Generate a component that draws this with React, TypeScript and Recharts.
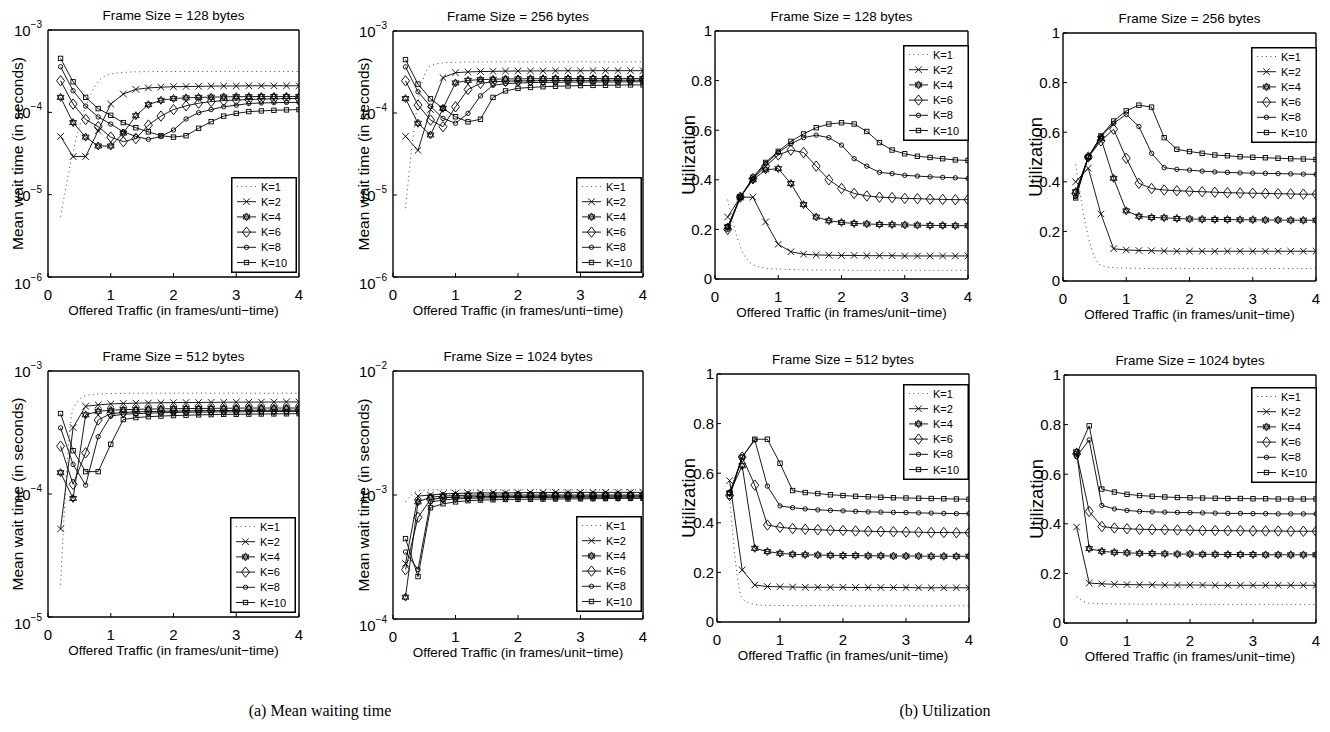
import React from 'react';
import { LineChart, Line, XAxis, YAxis } from 'recharts';

const FONT = '"Liberation Sans", Arial, Helvetica, sans-serif';

// offered traffic sample points (frames / unit time)
const OFFERED = [0.2, 0.4, 0.6, 0.8, 1.0, 1.2, 1.4, 1.6, 1.8, 2.0, 2.2, 2.4, 2.6, 2.8, 3.0, 3.2, 3.4, 3.6, 3.8, 4.0];
const K_LABELS = ['K=1', 'K=2', 'K=4', 'K=6', 'K=8', 'K=10'];
const X_TICKS = [0, 1, 2, 3, 4];
const WAIT_TICKS_A = [1e-6, 1e-5, 1e-4, 1e-3];
const WAIT_TICKS_B = [1e-5, 1e-4, 1e-3];
const WAIT_TICKS_C = [1e-4, 1e-3, 1e-2];
const UTIL_TICKS = [0, 0.2, 0.4, 0.6, 0.8, 1];

// mean wait time (s), rows are K=1,2,4,6,8,10
const WAIT_128 = [
  [5.4e-6, 3.3e-5, 1.17e-4, 2.35e-4, 2.92e-4, 3.05e-4, 3.1e-4, 3.12e-4, 3.13e-4, 3.13e-4, 3.14e-4, 3.14e-4, 3.14e-4, 3.14e-4, 3.14e-4, 3.14e-4, 3.14e-4, 3.14e-4, 3.14e-4, 3.14e-4],
  [5.1e-5, 2.9e-5, 2.9e-5, 6.0e-5, 1.26e-4, 1.67e-4, 1.9e-4, 1.98e-4, 2.02e-4, 2.05e-4, 2.06e-4, 2.07e-4, 2.08e-4, 2.09e-4, 2.09e-4, 2.1e-4, 2.1e-4, 2.1e-4, 2.1e-4, 2.1e-4],
  [1.52e-4, 7.5e-5, 5.0e-5, 3.9e-5, 3.9e-5, 5.6e-5, 9.1e-5, 1.24e-4, 1.4e-4, 1.47e-4, 1.5e-4, 1.52e-4, 1.53e-4, 1.54e-4, 1.55e-4, 1.55e-4, 1.56e-4, 1.56e-4, 1.56e-4, 1.56e-4],
  [2.42e-4, 1.26e-4, 8.2e-5, 6.7e-5, 5.0e-5, 4.4e-5, 4.8e-5, 7.0e-5, 9.0e-5, 1.08e-4, 1.2e-4, 1.29e-4, 1.35e-4, 1.39e-4, 1.41e-4, 1.43e-4, 1.45e-4, 1.46e-4, 1.47e-4, 1.47e-4],
  [3.58e-4, 1.83e-4, 1.19e-4, 8.8e-5, 7.2e-5, 5.8e-5, 5.1e-5, 4.7e-5, 5.1e-5, 6.1e-5, 8.3e-5, 9.9e-5, 1.08e-4, 1.17e-4, 1.22e-4, 1.28e-4, 1.3e-4, 1.31e-4, 1.32e-4, 1.32e-4],
  [4.52e-4, 2.35e-4, 1.52e-4, 1.11e-4, 9.2e-5, 7.5e-5, 6.5e-5, 5.8e-5, 5.2e-5, 5.0e-5, 5.2e-5, 6.4e-5, 7.7e-5, 9.0e-5, 9.7e-5, 1.02e-4, 1.04e-4, 1.06e-4, 1.07e-4, 1.08e-4],
];
const WAIT_256 = [
  [6.9e-6, 1.37e-4, 3.75e-4, 4.08e-4, 4.15e-4, 4.18e-4, 4.2e-4, 4.2e-4, 4.2e-4, 4.2e-4, 4.2e-4, 4.2e-4, 4.2e-4, 4.2e-4, 4.2e-4, 4.2e-4, 4.2e-4, 4.2e-4, 4.2e-4, 4.2e-4],
  [5.2e-5, 3.5e-5, 1.1e-4, 2.7e-4, 3.1e-4, 3.17e-4, 3.2e-4, 3.22e-4, 3.24e-4, 3.25e-4, 3.26e-4, 3.26e-4, 3.27e-4, 3.27e-4, 3.27e-4, 3.28e-4, 3.28e-4, 3.28e-4, 3.28e-4, 3.28e-4],
  [1.5e-4, 7.5e-5, 5.4e-5, 1.14e-4, 2.33e-4, 2.5e-4, 2.55e-4, 2.58e-4, 2.6e-4, 2.61e-4, 2.62e-4, 2.62e-4, 2.63e-4, 2.63e-4, 2.63e-4, 2.64e-4, 2.64e-4, 2.64e-4, 2.64e-4, 2.64e-4],
  [2.47e-4, 1.25e-4, 8.2e-5, 6.8e-5, 1.19e-4, 1.94e-4, 2.3e-4, 2.4e-4, 2.44e-4, 2.46e-4, 2.47e-4, 2.48e-4, 2.49e-4, 2.5e-4, 2.5e-4, 2.5e-4, 2.51e-4, 2.51e-4, 2.51e-4, 2.51e-4],
  [3.65e-4, 1.81e-4, 1.21e-4, 8.6e-5, 7.5e-5, 9.9e-5, 1.62e-4, 2.18e-4, 2.28e-4, 2.32e-4, 2.35e-4, 2.36e-4, 2.37e-4, 2.38e-4, 2.38e-4, 2.39e-4, 2.39e-4, 2.39e-4, 2.4e-4, 2.4e-4],
  [4.48e-4, 2.25e-4, 1.49e-4, 1.14e-4, 9.0e-5, 7.8e-5, 8.4e-5, 1.55e-4, 1.86e-4, 2.0e-4, 2.05e-4, 2.09e-4, 2.12e-4, 2.14e-4, 2.16e-4, 2.17e-4, 2.18e-4, 2.19e-4, 2.2e-4, 2.2e-4],
];
const WAIT_512 = [
  [1.83e-5, 4.9e-4, 6.3e-4, 6.5e-4, 6.55e-4, 6.58e-4, 6.6e-4, 6.6e-4, 6.6e-4, 6.6e-4, 6.6e-4, 6.6e-4, 6.6e-4, 6.6e-4, 6.6e-4, 6.6e-4, 6.6e-4, 6.6e-4, 6.6e-4, 6.6e-4],
  [5.2e-5, 3.47e-4, 5.17e-4, 5.3e-4, 5.4e-4, 5.45e-4, 5.48e-4, 5.5e-4, 5.52e-4, 5.53e-4, 5.54e-4, 5.55e-4, 5.56e-4, 5.57e-4, 5.58e-4, 5.58e-4, 5.59e-4, 5.59e-4, 5.6e-4, 5.6e-4],
  [1.49e-4, 9.2e-5, 4.4e-4, 4.7e-4, 4.8e-4, 4.85e-4, 4.88e-4, 4.9e-4, 4.92e-4, 4.94e-4, 4.95e-4, 4.96e-4, 4.97e-4, 4.98e-4, 4.99e-4, 5.0e-4, 5.0e-4, 5.0e-4, 5.0e-4, 5.0e-4],
  [2.45e-4, 1.2e-4, 2.16e-4, 4.0e-4, 4.5e-4, 4.6e-4, 4.65e-4, 4.68e-4, 4.7e-4, 4.72e-4, 4.74e-4, 4.75e-4, 4.76e-4, 4.77e-4, 4.78e-4, 4.79e-4, 4.8e-4, 4.8e-4, 4.8e-4, 4.8e-4],
  [3.45e-4, 1.74e-4, 1.18e-4, 2.92e-4, 4.3e-4, 4.45e-4, 4.5e-4, 4.54e-4, 4.57e-4, 4.6e-4, 4.62e-4, 4.63e-4, 4.64e-4, 4.65e-4, 4.66e-4, 4.67e-4, 4.68e-4, 4.68e-4, 4.69e-4, 4.69e-4],
  [4.51e-4, 2.25e-4, 1.52e-4, 1.52e-4, 2.54e-4, 4.03e-4, 4.18e-4, 4.25e-4, 4.3e-4, 4.34e-4, 4.37e-4, 4.4e-4, 4.42e-4, 4.44e-4, 4.45e-4, 4.46e-4, 4.47e-4, 4.48e-4, 4.49e-4, 4.5e-4],
];
const WAIT_1024 = [
  [8.8e-4, 1.08e-3, 1.1e-3, 1.1e-3, 1.1e-3, 1.1e-3, 1.1e-3, 1.1e-3, 1.1e-3, 1.1e-3, 1.1e-3, 1.1e-3, 1.1e-3, 1.1e-3, 1.1e-3, 1.1e-3, 1.1e-3, 1.1e-3, 1.1e-3, 1.1e-3],
  [2.8e-4, 9.8e-4, 1.0e-3, 1.02e-3, 1.03e-3, 1.035e-3, 1.04e-3, 1.04e-3, 1.04e-3, 1.045e-3, 1.045e-3, 1.045e-3, 1.05e-3, 1.05e-3, 1.05e-3, 1.05e-3, 1.05e-3, 1.05e-3, 1.05e-3, 1.05e-3],
  [1.5e-4, 8.8e-4, 9.6e-4, 9.8e-4, 9.9e-4, 9.95e-4, 1.0e-3, 1.0e-3, 1.0e-3, 1.0e-3, 1.0e-3, 1.0e-3, 1.0e-3, 1.0e-3, 1.0e-3, 1.0e-3, 1.0e-3, 1.0e-3, 1.0e-3, 1.0e-3],
  [2.5e-4, 6.6e-4, 9.2e-4, 9.5e-4, 9.6e-4, 9.65e-4, 9.7e-4, 9.72e-4, 9.74e-4, 9.75e-4, 9.76e-4, 9.77e-4, 9.78e-4, 9.78e-4, 9.79e-4, 9.79e-4, 9.8e-4, 9.8e-4, 9.8e-4, 9.8e-4],
  [3.47e-4, 2.5e-4, 8.8e-4, 9.1e-4, 9.3e-4, 9.4e-4, 9.45e-4, 9.5e-4, 9.52e-4, 9.54e-4, 9.55e-4, 9.56e-4, 9.57e-4, 9.58e-4, 9.58e-4, 9.59e-4, 9.59e-4, 9.6e-4, 9.6e-4, 9.6e-4],
  [4.45e-4, 2.2e-4, 7.9e-4, 8.5e-4, 8.8e-4, 9.0e-4, 9.1e-4, 9.15e-4, 9.2e-4, 9.23e-4, 9.25e-4, 9.27e-4, 9.29e-4, 9.3e-4, 9.32e-4, 9.34e-4, 9.36e-4, 9.38e-4, 9.4e-4, 9.4e-4],
];

// utilization, rows are K=1,2,4,6,8,10
const UTIL_128 = [
  [0.32, 0.13, 0.058, 0.044, 0.04, 0.038, 0.037, 0.036, 0.036, 0.036, 0.035, 0.035, 0.035, 0.035, 0.035, 0.035, 0.035, 0.035, 0.035, 0.035],
  [0.25, 0.33, 0.33, 0.23, 0.14, 0.11, 0.1, 0.097, 0.096, 0.095, 0.095, 0.094, 0.094, 0.094, 0.093, 0.093, 0.093, 0.093, 0.093, 0.093],
  [0.21, 0.33, 0.4, 0.44, 0.445, 0.385, 0.3, 0.25, 0.235, 0.228, 0.224, 0.222, 0.22, 0.219, 0.218, 0.217, 0.216, 0.216, 0.215, 0.215],
  [0.2, 0.33, 0.405, 0.455, 0.5, 0.52, 0.51, 0.455, 0.4, 0.365, 0.345, 0.335, 0.33, 0.328, 0.325, 0.324, 0.322, 0.321, 0.32, 0.32],
  [0.2, 0.33, 0.405, 0.465, 0.51, 0.545, 0.57, 0.58, 0.57, 0.54, 0.485, 0.455, 0.43, 0.425, 0.418, 0.415, 0.412, 0.41, 0.408, 0.405],
  [0.21, 0.33, 0.41, 0.47, 0.515, 0.555, 0.585, 0.61, 0.625, 0.63, 0.625, 0.595, 0.55, 0.52, 0.505, 0.495, 0.49, 0.485, 0.48, 0.478],
];
const UTIL_256 = [
  [0.47, 0.178, 0.063, 0.054, 0.052, 0.051, 0.05, 0.05, 0.05, 0.05, 0.05, 0.05, 0.05, 0.05, 0.05, 0.05, 0.05, 0.05, 0.05, 0.05],
  [0.4, 0.455, 0.27, 0.13, 0.125, 0.123, 0.122, 0.121, 0.12, 0.12, 0.12, 0.12, 0.12, 0.12, 0.12, 0.12, 0.12, 0.12, 0.12, 0.12],
  [0.36, 0.5, 0.575, 0.414, 0.283, 0.261, 0.256, 0.255, 0.252, 0.25, 0.249, 0.248, 0.248, 0.247, 0.247, 0.246, 0.246, 0.245, 0.245, 0.245],
  [0.353, 0.5, 0.565, 0.612, 0.495, 0.394, 0.373, 0.367, 0.364, 0.362, 0.36, 0.358, 0.356, 0.355, 0.354, 0.353, 0.352, 0.351, 0.35, 0.35],
  [0.34, 0.5, 0.582, 0.636, 0.672, 0.623, 0.515, 0.457, 0.45, 0.447, 0.443, 0.44, 0.438, 0.436, 0.435, 0.434, 0.433, 0.432, 0.431, 0.43],
  [0.335, 0.5, 0.585, 0.645, 0.686, 0.709, 0.701, 0.578, 0.531, 0.522, 0.515, 0.508, 0.505, 0.501, 0.499, 0.497, 0.495, 0.493, 0.492, 0.49],
];
const UTIL_512 = [
  [0.5, 0.095, 0.071, 0.067, 0.067, 0.066, 0.066, 0.066, 0.066, 0.066, 0.065, 0.065, 0.065, 0.065, 0.065, 0.065, 0.065, 0.065, 0.065, 0.065],
  [0.57, 0.21, 0.149, 0.143, 0.142, 0.141, 0.14, 0.14, 0.14, 0.14, 0.139, 0.139, 0.139, 0.139, 0.139, 0.138, 0.138, 0.138, 0.138, 0.138],
  [0.52, 0.63, 0.297, 0.284, 0.277, 0.273, 0.271, 0.27, 0.269, 0.268, 0.268, 0.267, 0.267, 0.266, 0.266, 0.266, 0.265, 0.265, 0.265, 0.265],
  [0.51, 0.665, 0.552, 0.391, 0.382, 0.377, 0.374, 0.372, 0.37, 0.369, 0.367, 0.366, 0.365, 0.364, 0.363, 0.362, 0.361, 0.361, 0.36, 0.36],
  [0.505, 0.665, 0.734, 0.548, 0.468, 0.461, 0.456, 0.452, 0.45, 0.448, 0.446, 0.444, 0.443, 0.442, 0.441, 0.44, 0.439, 0.438, 0.437, 0.437],
  [0.52, 0.665, 0.737, 0.737, 0.64, 0.53, 0.522, 0.518, 0.513, 0.51, 0.507, 0.505, 0.503, 0.501, 0.5, 0.499, 0.498, 0.497, 0.496, 0.495],
];
const UTIL_1024 = [
  [0.107, 0.08, 0.078, 0.077, 0.077, 0.076, 0.076, 0.076, 0.076, 0.075, 0.075, 0.075, 0.075, 0.075, 0.075, 0.075, 0.075, 0.075, 0.075, 0.075],
  [0.387, 0.161, 0.158, 0.156, 0.155, 0.154, 0.154, 0.153, 0.153, 0.153, 0.153, 0.152, 0.152, 0.152, 0.152, 0.152, 0.152, 0.152, 0.152, 0.152],
  [0.69, 0.3, 0.289, 0.285, 0.283, 0.281, 0.28, 0.279, 0.278, 0.278, 0.277, 0.277, 0.276, 0.276, 0.276, 0.275, 0.275, 0.275, 0.275, 0.275],
  [0.682, 0.45, 0.389, 0.383, 0.38, 0.378, 0.377, 0.376, 0.375, 0.374, 0.373, 0.373, 0.372, 0.372, 0.371, 0.371, 0.371, 0.37, 0.37, 0.37],
  [0.671, 0.738, 0.474, 0.46, 0.454, 0.45, 0.448, 0.447, 0.446, 0.445, 0.444, 0.443, 0.442, 0.442, 0.441, 0.441, 0.44, 0.44, 0.44, 0.44],
  [0.682, 0.795, 0.54, 0.528, 0.519, 0.514, 0.511, 0.508, 0.506, 0.505, 0.504, 0.503, 0.502, 0.502, 0.501, 0.501, 0.5, 0.5, 0.5, 0.5],
];

const WAIT_LABEL = 'Mean wait time (in seconds)';
const UTIL_LABEL = 'Utilization';
const X_LABEL_A = 'Offered Traffic (in frames/unti\u2212time)';
const X_LABEL_B = 'Offered Traffic (in frames/unit\u2212time)';

const MARKERS = [null, 'x', 'hex', 'diamond', 'circle', 'square'];

function Marker({ kind, cx, cy }: any) {
  const st = { stroke: '#000', strokeWidth: 0.9, fill: 'none' };
  if (kind === 'x') {
    const d = 3.3;
    return <path d={`M${cx - d},${cy - d}L${cx + d},${cy + d}M${cx - d},${cy + d}L${cx + d},${cy - d}`} {...st} />;
  }
  if (kind === 'hex') {
    const r = 4, h = r * 0.866, q = r / 2;
    return (
      <g {...st}>
        <polygon points={`${cx},${cy - r} ${cx + h},${cy + q} ${cx - h},${cy + q}`} />
        <polygon points={`${cx},${cy + r} ${cx + h},${cy - q} ${cx - h},${cy - q}`} />
      </g>
    );
  }
  if (kind === 'diamond') {
    return <polygon points={`${cx},${cy - 5.2} ${cx + 4},${cy} ${cx},${cy + 5.2} ${cx - 4},${cy}`} {...st} />;
  }
  if (kind === 'circle') return <circle cx={cx} cy={cy} r={2.2} {...st} />;
  if (kind === 'square') return <rect x={cx - 2.2} y={cy - 2.2} width={4.4} height={4.4} {...st} />;
  return null;
}

const PANELS = [
  { title: 'Frame Size = 128 bytes', series: WAIT_128, log: true, ticks: WAIT_TICKS_A, yLabel: WAIT_LABEL, xLabel: X_LABEL_A, box: [48, 30, 299, 277], legend: [231, 177], yLabelX: 23 },
  { title: 'Frame Size = 256 bytes', series: WAIT_256, log: true, ticks: WAIT_TICKS_A, yLabel: WAIT_LABEL, xLabel: X_LABEL_A, box: [393, 31, 643, 277], legend: [576, 177], yLabelX: 24 },
  { title: 'Frame Size = 128 bytes', series: UTIL_128, log: false, ticks: UTIL_TICKS, yLabel: UTIL_LABEL, xLabel: X_LABEL_B, box: [715, 31, 968, 279], legend: [903, 45], yLabelX: 28 },
  { title: 'Frame Size = 256 bytes', series: UTIL_256, log: false, ticks: UTIL_TICKS, yLabel: UTIL_LABEL, xLabel: X_LABEL_B, box: [1063, 33, 1316, 281], legend: [1251, 47], yLabelX: 27 },
  { title: 'Frame Size = 512 bytes', series: WAIT_512, log: true, ticks: WAIT_TICKS_B, yLabel: WAIT_LABEL, xLabel: X_LABEL_B, box: [48, 371, 299, 617], legend: [230, 517], yLabelX: 23 },
  { title: 'Frame Size = 1024 bytes', series: WAIT_1024, log: true, ticks: WAIT_TICKS_C, yLabel: WAIT_LABEL, xLabel: X_LABEL_B, box: [393, 371, 643, 619], legend: [576, 516], yLabelX: 24 },
  { title: 'Frame Size = 512 bytes', series: UTIL_512, log: false, ticks: UTIL_TICKS, yLabel: UTIL_LABEL, xLabel: X_LABEL_B, box: [717, 374, 969, 622], legend: [903, 384], yLabelX: 26 },
  { title: 'Frame Size = 1024 bytes', series: UTIL_1024, log: false, ticks: UTIL_TICKS, yLabel: UTIL_LABEL, xLabel: X_LABEL_B, box: [1064, 375, 1316, 623], legend: [1251, 387], yLabelX: 27 },
];

const XTick = (props: any) => (
  <text x={props.x} y={props.y + 27} textAnchor="middle" fontSize={15} fontFamily={FONT} fill="#000">
    {props.payload.value}
  </text>
);

const LinTick = (props: any) => (
  <text x={props.x} y={props.y + 5.3} textAnchor="end" fontSize={15} fontFamily={FONT} fill="#000">
    {props.payload.value}
  </text>
);

const makeLogTick = (lowest: number) => (props: any) => {
  const v = props.payload.value;
  const exp = Math.round(Math.log10(v));
  const shift = v === lowest ? 7 : 1;
  return (
    <text x={props.x} y={props.y + 5 + shift} textAnchor="end" fontSize={15} fontFamily={FONT} fill="#000">
      10<tspan dy={-8} fontSize={10}>{'\u2212' + Math.abs(exp)}</tspan>
    </text>
  );
};

function LegendBox({ left, top }: any) {
  return (
    <svg style={{ position: 'absolute', left, top }} width={66} height={96}>
      <rect x={0.75} y={0.75} width={64.5} height={94.5} fill="#fff" stroke="#000" strokeWidth={1.5} />
      {K_LABELS.map((k, i) => {
        const cy = 9.5 + i * 15.2;
        return (
          <g key={k}>
            <line x1={6} x2={25} y1={cy} y2={cy} stroke={i === 0 ? '#444' : '#000'} strokeWidth={0.9} strokeDasharray={i === 0 ? '1 3.5' : undefined} />
            <Marker kind={MARKERS[i]} cx={15.5} cy={cy} />
            <text x={30} y={cy + 4} fontSize={11} fontFamily={FONT} fill="#000">{k}</text>
          </g>
        );
      })}
    </svg>
  );
}

function Panel({ p }: any) {
  const [L, T, R, B] = p.box;
  const pw = R - L;
  const ph = B - T;
  const W = pw + 52;
  const H = ph + 72;
  const domain = [p.ticks[0], p.ticks[p.ticks.length - 1]];
  const rows = OFFERED.map((x, i) => {
    const r: any = { x };
    p.series.forEach((s: number[], j: number) => { r['k' + j] = s[i]; });
    return r;
  });
  const boxLine = { stroke: '#000', strokeWidth: 1.4 };
  const tickLine = { stroke: '#000', strokeWidth: 1 };
  const midX = 48 + pw / 2;
  const midY = 26 + ph / 2;
  const yScale = p.log ? 'log' : 'linear';
  const isWait = p.yLabel === WAIT_LABEL;

  return (
    <>
      <div style={{ position: 'absolute', left: L - 48, top: T - 26 }}>
        <LineChart width={W} height={H} data={rows} margin={{ top: 25, right: 3, bottom: 0, left: 0 }}>
          <XAxis
            xAxisId="b" dataKey="x" type="number" domain={[0, 4]} ticks={X_TICKS} interval={0}
            allowDataOverflow height={46} tickSize={-4} tickMargin={0}
            axisLine={boxLine} tickLine={tickLine} tick={XTick}
            label={{
              content: () => (
                <text x={midX} y={26 + ph + 38} textAnchor="middle" fontSize={13.4} fontFamily={FONT} fill="#000">
                  {p.xLabel}
                </text>
              ),
            }}
          />
          <XAxis
            xAxisId="t" orientation="top" dataKey="x" type="number" domain={[0, 4]} ticks={X_TICKS} interval={0}
            allowDataOverflow height={1} tickSize={-4} axisLine={boxLine} tickLine={tickLine} tick={false}
            label={{
              content: () => (
                <text x={midX} y={16} textAnchor="middle" fontSize={13.4} fontFamily={FONT} fill="#000">
                  {p.title}
                </text>
              ),
            }}
          />
          <YAxis
            yAxisId="l" type="number" scale={yScale} domain={domain} ticks={p.ticks} interval={0}
            allowDataOverflow width={48} tickSize={-4} tickMargin={p.log ? 10 : 7}
            axisLine={boxLine} tickLine={tickLine} tick={p.log ? makeLogTick(p.ticks[0]) : LinTick}
            label={{
              content: () => (
                <text x={p.yLabelX} y={midY} transform={`rotate(-90, ${p.yLabelX}, ${midY})`} textAnchor="middle"
                  fontSize={isWait ? 15.5 : 18.5} fontFamily={FONT} fill="#000">
                  {p.yLabel}
                </text>
              ),
            }}
          />
          <YAxis
            yAxisId="r" orientation="right" type="number" scale={yScale} domain={domain} ticks={p.ticks} interval={0}
            allowDataOverflow width={1} tickSize={-4} axisLine={boxLine} tickLine={tickLine} tick={false}
          />
          {p.series.map((_: number[], j: number) => (
            <Line
              key={j}
              xAxisId="b"
              yAxisId="l"
              dataKey={'k' + j}
              type={j === 0 ? 'monotone' : 'linear'}
              stroke={j === 0 ? '#444' : '#000'}
              strokeWidth={j === 0 ? 1 : 0.9}
              strokeDasharray={j === 0 ? '1 3.5' : undefined}
              dot={j === 0 ? false : (d: any) => <Marker key={d.index} kind={MARKERS[j]} cx={d.cx} cy={d.cy} />}
              activeDot={false}
              isAnimationActive={false}
            />
          ))}
        </LineChart>
      </div>
      <LegendBox left={p.legend[0]} top={p.legend[1]} />
    </>
  );
}

export default function App() {
  const caption = { position: 'absolute' as const, top: 702, fontFamily: '"Liberation Serif", "Times New Roman", serif', fontSize: 16, color: '#000', whiteSpace: 'nowrap' as const, transform: 'translateX(-50%)' };
  return (
    <div style={{ position: 'absolute', left: 0, top: 0, width: 1330, height: 732, background: '#fff', overflow: 'hidden' }}>
      {PANELS.map((p, i) => <Panel key={i} p={p} />)}
      <div style={{ ...caption, left: 320 }}>(a) Mean waiting time</div>
      <div style={{ ...caption, left: 945 }}>(b) Utilization</div>
    </div>
  );
}
